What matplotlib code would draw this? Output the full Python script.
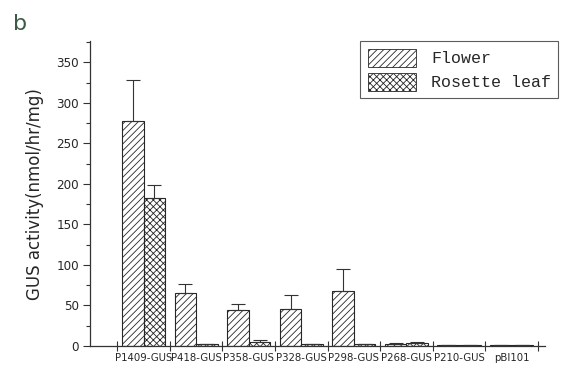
import numpy as np
import matplotlib
matplotlib.use("Agg")
import matplotlib.pyplot as plt
from matplotlib.patches import Patch
from matplotlib.ticker import MultipleLocator

constructs = ["P1409-GUS", "P418-GUS", "P358-GUS", "P328-GUS",
              "P298-GUS", "P268-GUS", "P210-GUS", "pBI101"]
flower = [277, 65, 44, 46, 68, 3, 1, 1]
flower_err = [51, 11, 8, 17, 27, 1, 0, 0]
rosette = [182, 2, 5, 2, 2, 4, 1, 1]
rosette_err = [17, 0, 3, 0, 0, 1, 0, 0]

plt.rcParams["hatch.linewidth"] = 0.6
ink = "#262626"

fig = plt.figure(figsize=(5.71, 3.71), dpi=100)
ax = fig.add_axes([0.1576, 0.0674, 0.7964, 0.8216])

x = np.arange(len(constructs))
w = 0.41
# upper error only; the lower half would sit inside the bar anyway
ebar = dict(ecolor="#333", lw=0.8, capsize=5, capthick=0.8)
ax.bar(x - w / 2, flower, w, color="white", edgecolor=ink, lw=0.8, hatch="/////",
       yerr=[np.zeros(len(x)), flower_err], error_kw=ebar)
ax.bar(x + w / 2, rosette, w, color="white", edgecolor=ink, lw=0.8, hatch="xxxxx",
       yerr=[np.zeros(len(x)), rosette_err], error_kw=ebar)

ax.set_xlim(-1.02, 7.63)
ax.set_ylim(0, 376)
ax.yaxis.set_major_locator(MultipleLocator(50))
ax.yaxis.set_minor_locator(MultipleLocator(25))
# group separators as major ticks, names on minor ticks at the group centres
ax.set_xticks(np.arange(-0.5, 8, 1.0))
ax.set_xticklabels([])
ax.set_xticks(x, minor=True)
ax.set_xticklabels(constructs, minor=True, fontsize=8.1, fontstretch="condensed", color=ink)
ax.tick_params(axis="x", which="major", direction="inout", length=7, width=0.8, color="#333")
ax.tick_params(axis="x", which="minor", length=0, pad=5)
ax.tick_params(axis="y", which="both", direction="out", width=0.8, color="#333")
ax.tick_params(axis="y", which="major", length=5, pad=3)
ax.tick_params(axis="y", which="minor", length=3)
for lab in ax.get_yticklabels():
    lab.set_fontsize(9.5)
    lab.set_fontstretch("condensed")
    lab.set_color(ink)

for s in ("top", "right"):
    ax.spines[s].set_visible(False)
for s in ("left", "bottom"):
    ax.spines[s].set_color("#333")
    ax.spines[s].set_linewidth(0.9)

ax.set_ylabel("GUS activity(nmol/hr/mg)", fontsize=12, color=ink, labelpad=9)

handles = [Patch(facecolor="white", edgecolor=ink, hatch="/////", lw=0.6),
           Patch(facecolor="white", edgecolor=ink, hatch="xxxxx", lw=0.6)]
leg = ax.legend(handles, ["Flower", "Rosette leaf"], loc="upper right",
                bbox_to_anchor=(1.03, 1.0), borderaxespad=0, frameon=True, fancybox=False,
                handlelength=2.9, handleheight=1.3, handletextpad=0.9, borderpad=0.45,
                labelspacing=0.35, prop=dict(family="Liberation Mono", size=12))
leg.get_frame().set_edgecolor("#333")
leg.get_frame().set_linewidth(0.8)
for t in leg.get_texts():
    t.set_color(ink)

fig.text(0.022, 0.92, "b", fontsize=16, color="#3d5a45")

fig.savefig("out.png", dpi=100)
